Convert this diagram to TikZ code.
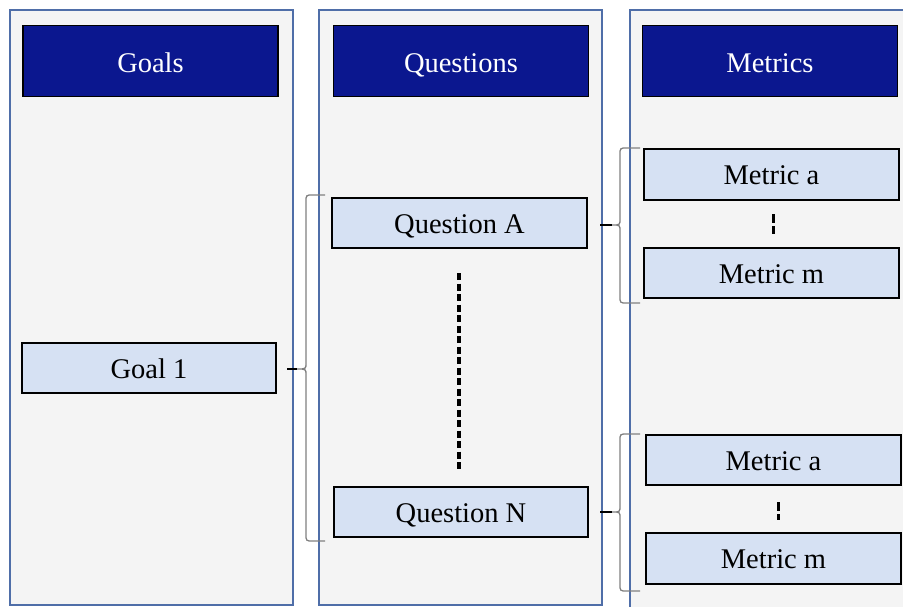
\documentclass[tikz,border=0pt]{standalone}
\usepackage{fontspec}
\setmainfont{Liberation Serif}
\definecolor{panelfill}{HTML}{F4F4F4}
\definecolor{panelline}{HTML}{4F6EA8}
\definecolor{headfill}{HTML}{0B178F}
\definecolor{boxfill}{HTML}{D6E1F3}
\definecolor{bracegray}{HTML}{808080}
\tikzset{
  panel/.style={draw=panelline, fill=panelfill, line width=1.2pt},
  headbox/.style={draw=black, fill=headfill, line width=1.4pt, text=white,
    minimum width=255pt, minimum height=71pt, inner sep=0pt,
    text height=22pt, text depth=0pt,
    font=\fontsize{28.5}{32}\selectfont},
  itembox/.style={draw=black, fill=boxfill, line width=1.3pt, text=black,
    minimum width=254pt, minimum height=50pt, inner sep=0pt,
    text height=20pt, text depth=0pt,
    font=\fontsize{28.5}{32}\selectfont},
  bigdots/.style={line width=3.5pt, dash pattern=on 7pt off 3.5pt},
  smalldots/.style={line width=3pt, dash pattern=on 9pt off 3pt},
  bracestyle/.style={draw=bracegray, line width=1.3pt},
  stub/.style={draw=black, line width=1.1pt}
}
\begin{document}
\begin{tikzpicture}[x=1pt, y=-1pt]
\useasboundingbox (0,0) rectangle (903,606);
\clip (0,0) rectangle (903,606);

% column panels
\path[panel] (10,10) rectangle (293,605);
\path[panel] (319,10) rectangle (602,605);
\path[panel] (630,10) rectangle (920,625);

% column headers
\node[headbox] (hgoals) at (150.5,61) {Goals};
\node[headbox] (hquest) at (461,61) {Questions};
\node[headbox] (hmetr)  at (770,61) {Metrics};

% goal
\node[itembox] (goal) at (149,368) {Goal 1};

% questions
\node[itembox, minimum width=255pt] (qa) at (459.5,223) {Question A};
\node[itembox] (qn) at (461,512) {Question N};

% metrics, first group
\node[itembox, minimum width=255pt, minimum height=51pt] (ma1) at (771.5,174.5) {Metric a};
\node[itembox, minimum width=255pt] (mm1) at (771.5,273) {Metric m};

% metrics, second group
\node[itembox, minimum width=255pt] (ma2) at (773.5,460) {Metric a};
\node[itembox, minimum width=255pt, minimum height=51pt] (mm2) at (773.5,558.5) {Metric m};

% ellipsis lines
\coordinate (qd1) at (459,273);
\coordinate (qd2) at (459,469);
\draw[bigdots] (qd1) -- (qd2);
\coordinate (md1) at (773,214);
\coordinate (md2) at (773,233.5);
\draw[smalldots] (md1) -- (md2);
\coordinate (md3) at (778,502);
\coordinate (md4) at (778,520);
\draw[smalldots] (md3) -- (md4);

% braces: tip x, spine x, cusp x, top y, cusp y, bottom y
\newcommand{\curlybrace}[6]{%
  \draw[bracestyle] (#1,#4) -- (#2+7,#4) .. controls (#2,#4) .. (#2,#4+7)
    -- (#2,#5-6) .. controls (#2,#5) .. (#3,#5)
    .. controls (#2,#5) .. (#2,#5+6)
    -- (#2,#6-7) .. controls (#2,#6) .. (#2+7,#6) -- (#1,#6);}

\curlybrace{325}{306}{297}{195}{369}{541}
\coordinate (b1) at (297,369);
\coordinate (s1) at (287,369);
\draw[stub] (s1) -- (b1);

\curlybrace{640}{620}{612}{148}{225}{303}
\coordinate (b2) at (612,225);
\coordinate (s2) at (600,225);
\draw[stub] (s2) -- (b2);

\curlybrace{640}{620}{612}{434}{512}{591}
\coordinate (b3) at (612,512);
\coordinate (s3) at (600,512);
\draw[stub] (s3) -- (b3);
\end{tikzpicture}
\end{document}
